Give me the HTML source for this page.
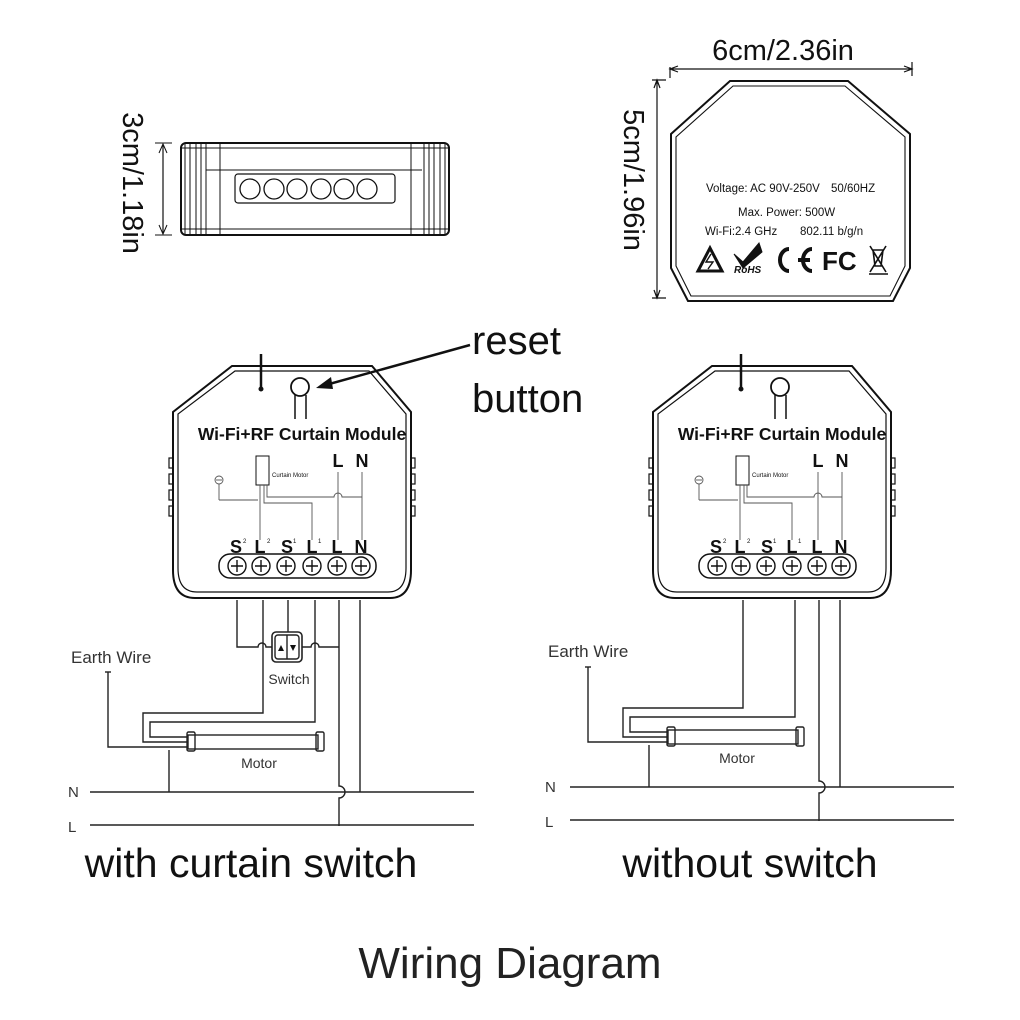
<!DOCTYPE html>
<html><head><meta charset="utf-8"><style>
html,body{margin:0;padding:0;background:#fff;}
svg{display:block;font-family:"Liberation Sans",Arial,sans-serif;}
</style></head><body>
<svg width="1020" height="1020" viewBox="0 0 1020 1020" xmlns="http://www.w3.org/2000/svg">
<defs>
<g id="mod" fill="none" stroke="#111">
  <path d="M232,366 L372,366 L411,412 L411,570 Q411,598 390,598 L195,598 Q173,598 173,570 L173,412 Z" stroke-width="2"/>
  <path d="M235,371 L369,371 L406,414 L406,568 Q406,592 388,592 L197,592 Q178,592 178,568 L178,414 Z" stroke-width="1.2"/>
  <g stroke-width="1.2">
    <rect x="169" y="458" width="4" height="10"/><rect x="169" y="474" width="4" height="10"/><rect x="169" y="490" width="4" height="10"/><rect x="169" y="506" width="4" height="10"/>
    <rect x="411" y="458" width="4" height="10"/><rect x="411" y="474" width="4" height="10"/><rect x="411" y="490" width="4" height="10"/><rect x="411" y="506" width="4" height="10"/>
  </g>
  <line x1="261" y1="354" x2="261" y2="388" stroke-width="2.5"/>
  <circle cx="261" cy="389" r="2" fill="#111"/>
  <circle cx="300" cy="387" r="9" stroke-width="1.8"/>
  <line x1="295" y1="395" x2="295" y2="419" stroke-width="1.5"/>
  <line x1="306" y1="395" x2="306" y2="419" stroke-width="1.5"/>
  <rect x="256" y="456" width="13" height="29" stroke-width="1"/>
  <g stroke-width="0.9" stroke="#555">
    <circle cx="219" cy="480" r="4"/>
    <line x1="216" y1="480" x2="222" y2="480"/>
    <line x1="219" y1="484" x2="219" y2="500"/><line x1="219" y1="500" x2="258" y2="500"/>
    <line x1="260" y1="485" x2="260" y2="540"/>
    <path d="M264,485 L264,503 L312,503 L312,540"/>
    <path d="M267,485 L267,497 L334,497 A4,4 0 0 1 342,497 L362,497"/>
    <line x1="338" y1="472" x2="338" y2="540"/>
    <line x1="362" y1="472" x2="362" y2="540"/>
  </g>
  <rect x="219" y="554" width="157" height="24" rx="11" stroke-width="1.5"/>
  <g stroke-width="1.4">
    <circle cx="237" cy="566" r="9"/><circle cx="261" cy="566" r="9"/><circle cx="286" cy="566" r="9"/><circle cx="312" cy="566" r="9"/><circle cx="337" cy="566" r="9"/><circle cx="361" cy="566" r="9"/>
    <path d="M231,566h12M237,560v12M255,566h12M261,560v12M280,566h12M286,560v12M306,566h12M312,560v12M331,566h12M337,560v12M355,566h12M361,560v12"/>
  </g>
  <g fill="#111" stroke="none">
    <text x="302" y="440" font-size="17.5" text-anchor="middle" font-weight="bold">Wi-Fi+RF Curtain Module</text>
    <text x="272" y="477" font-size="6">Curtain Motor</text>
    <text x="338" y="467" font-size="18" text-anchor="middle" font-weight="bold">L</text>
    <text x="362" y="467" font-size="18" text-anchor="middle" font-weight="bold">N</text>
    <g font-size="18" font-weight="bold" text-anchor="middle">
      <text x="236" y="553">S</text><text x="260" y="553">L</text><text x="287" y="553">S</text><text x="312" y="553">L</text><text x="337" y="553">L</text><text x="361" y="553">N</text>
    </g>
    <g font-size="6"><text x="243" y="543">2</text><text x="293" y="543">1</text><text x="267" y="543">2</text><text x="318" y="543">1</text></g>
  </g>
</g>
</defs>

<!-- Side view -->
<g fill="none" stroke="#111">
  <rect x="181" y="143" width="268" height="92" rx="5" stroke-width="2"/>
  <line x1="181" y1="148" x2="449" y2="148" stroke-width="1"/>
  <line x1="181" y1="229" x2="449" y2="229" stroke-width="1"/>
  <line x1="206" y1="170" x2="422" y2="170" stroke-width="1"/>
  <path d="M185,143v92M190,143v92M196,143v92M201,143v92M206,143v92M220,143v92M411,143v92M424,143v92M429,143v92M434,143v92M440,143v92M445,143v92" stroke-width="1"/>
  <rect x="235" y="174" width="160" height="29" rx="3" stroke-width="1.2"/>
  <g stroke-width="1.3">
    <circle cx="250" cy="189" r="10"/><circle cx="274" cy="189" r="10"/><circle cx="297" cy="189" r="10"/><circle cx="321" cy="189" r="10"/><circle cx="344" cy="189" r="10"/><circle cx="367" cy="189" r="10"/>
  </g>
  <line x1="163" y1="145" x2="163" y2="233" stroke-width="1.2"/>
  <line x1="155" y1="143" x2="172" y2="143" stroke-width="1"/>
  <line x1="155" y1="235" x2="172" y2="235" stroke-width="1"/>
  <path d="M159,153 L163,144 L167,153 M159,225 L163,234 L167,225" stroke-width="1"/>
</g>
<text transform="translate(123,183) rotate(90)" font-size="29" text-anchor="middle" fill="#111">3cm/1.18in</text>

<!-- Top module -->
<g fill="none" stroke="#111">
  <path d="M730,81 L848,81 L910,134 L910,268 L893,301 L688,301 L671,268 L671,134 Z" stroke-width="2"/>
  <path d="M733,86 L845,86 L905,137 L905,266 L890,296 L691,296 L676,266 L676,137 Z" stroke-width="1.1"/>
  <path d="M670,67 L670,78 M912,62 L912,76 M672,69 L910,69 M678,66 L670,69 L678,72 M904,66 L912,69 L904,72" stroke-width="1.2"/>
  <path d="M657,80 L657,298 M652,80 L666,80 M652,298 L666,298 M654,88 L657,80 L660,88 M654,290 L657,298 L660,290" stroke-width="1.2"/>
  <path d="M698,271 L710,248 L722,271 Z" stroke-width="3"/>
  <path d="M711,254 L706,262 L713,262 L708,269" stroke-width="1.4"/>
  <path d="M734,254 L743,262 L759,243 L762,252 L743,268 Z" fill="#111" stroke-width="1"/>
  <path d="M789,249 A9,11 0 1 0 789,271" stroke-width="4"/>
  <path d="M812,249 A9,11 0 1 0 812,271 M798,260 L810,260" stroke-width="4"/>
  <path d="M870,246 L886,272 M886,246 L870,272 M873,250 L883,250 L881,266 L875,266 Z M869,274 L888,274" stroke-width="1.6"/>
</g>
<text x="822" y="270" font-size="26" font-weight="bold" fill="#111">FC</text>
<text x="734" y="273" font-size="10" font-weight="bold" font-style="italic" fill="#111">RoHS</text>
<text x="783" y="60" font-size="29" text-anchor="middle" fill="#111">6cm/2.36in</text>
<text transform="translate(624,180) rotate(90)" font-size="29" text-anchor="middle" fill="#111">5cm/1.96in</text>
<g font-size="11.5" fill="#111">
  <text x="706" y="192">Voltage: AC 90V-250V</text>
  <text x="831" y="192">50/60HZ</text>
  <text x="738" y="216">Max. Power: 500W</text>
  <text x="705" y="235">Wi-Fi:2.4 GHz</text>
  <text x="800" y="235">802.11 b/g/n</text>
</g>

<!-- Left module -->
<use href="#mod"/>
<path d="M470,345 L322,386" stroke="#111" stroke-width="2.5"/>
<path d="M316,388 L331,377 L333,389 Z" fill="#111"/>
<text x="472" y="354" font-size="40" fill="#111">reset</text>
<text x="472" y="412" font-size="40" fill="#111">button</text>

<g fill="none" stroke="#222" stroke-width="1.4">
  <path d="M237,600 L237,647 L258,647 A4,4 0 0 1 266,647 L272,647"/>
  <path d="M263,600 L263,713 L143,713 L143,742 L188,742"/>
  <line x1="288" y1="600" x2="288" y2="632"/>
  <path d="M315,600 L315,722 L150,722 L150,737 L188,737"/>
  <path d="M302,647 L311,647 A4,4 0 0 1 319,647 L339,647"/>
  <path d="M339,600 L339,786 A6,6 0 0 1 339,798 L339,826"/>
  <line x1="360" y1="600" x2="360" y2="792"/>
  <path d="M108,672 L108,747 L188,747"/>
  <line x1="105" y1="672" x2="111" y2="672"/>
  <path d="M169,750 L169,792"/>
  <line x1="90" y1="792" x2="474" y2="792"/>
  <line x1="90" y1="825" x2="474" y2="825"/>
  <rect x="188" y="735" width="130" height="14"/>
  <rect x="187" y="732" width="8" height="19" rx="1.5"/>
  <rect x="316" y="732" width="8" height="19" rx="1.5"/>
  <rect x="272" y="632" width="30" height="30" rx="4" stroke-width="1.6"/>
  <rect x="275" y="635" width="24" height="24" rx="3"/>
  <line x1="287" y1="635" x2="287" y2="659"/>
</g>
<path d="M278,651 L281,645 L284,651 Z M290,645 L296,645 L293,651 Z" fill="#111"/>
<g fill="#333">
  <text x="71" y="663" font-size="17">Earth Wire</text>
  <text x="289" y="684" font-size="14" text-anchor="middle">Switch</text>
  <text x="259" y="768" font-size="14" text-anchor="middle">Motor</text>
  <text x="68" y="797" font-size="15">N</text>
  <text x="68" y="832" font-size="15">L</text>
</g>
<text x="251" y="877" font-size="41" text-anchor="middle" fill="#111">with curtain switch</text>

<!-- Right module -->
<use href="#mod" transform="translate(480,0)"/>
<g fill="none" stroke="#222" stroke-width="1.4" transform="translate(480,-5)">
  <path d="M263,605 L263,713 L143,713 L143,742 L188,742"/>
  <path d="M315,605 L315,722 L150,722 L150,737 L188,737"/>
  <path d="M339,605 L339,786 A6,6 0 0 1 339,798 L339,826"/>
  <line x1="360" y1="605" x2="360" y2="792"/>
  <path d="M108,672 L108,747 L188,747"/>
  <line x1="105" y1="672" x2="111" y2="672"/>
  <path d="M169,750 L169,792"/>
  <line x1="90" y1="792" x2="474" y2="792"/>
  <line x1="90" y1="825" x2="474" y2="825"/>
  <rect x="188" y="735" width="130" height="14"/>
  <rect x="187" y="732" width="8" height="19" rx="1.5"/>
  <rect x="316" y="732" width="8" height="19" rx="1.5"/>
</g>
<g fill="#333">
  <text x="548" y="657" font-size="17">Earth Wire</text>
  <text x="737" y="763" font-size="14" text-anchor="middle">Motor</text>
  <text x="545" y="792" font-size="15">N</text>
  <text x="545" y="827" font-size="15">L</text>
</g>
<text x="750" y="877" font-size="41" text-anchor="middle" fill="#111">without switch</text>

<text x="510" y="978" font-size="44" text-anchor="middle" fill="#222">Wiring Diagram</text>
</svg>
</body></html>
